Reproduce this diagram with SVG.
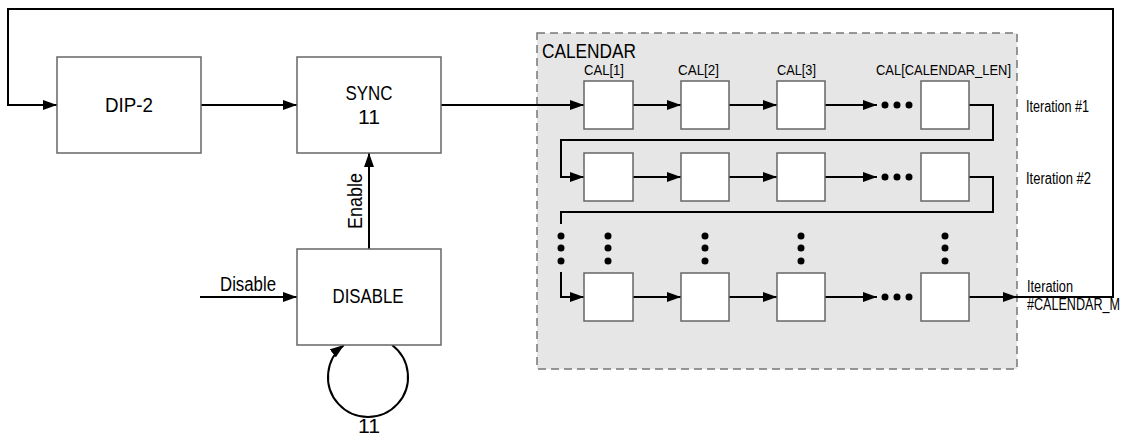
<svg xmlns="http://www.w3.org/2000/svg" width="1123" height="435" viewBox="0 0 1123 435">
<style>
  .box { fill: #ffffff; stroke: #666666; stroke-width: 1.5; }
  .cell { fill: #ffffff; stroke: #666666; stroke-width: 1.5; }
  .wire { fill: none; stroke: #000000; stroke-width: 2; }
  .arr { marker-end: url(#ah); }
  .t20 { font-family: "Liberation Sans", Arial, sans-serif; font-size: 20px; fill: #000; }
  .t14 { font-family: "Liberation Sans", Arial, sans-serif; font-size: 15px; fill: #000; }
  .t16 { font-family: "Liberation Sans", Arial, sans-serif; font-size: 16px; fill: #000; }
  .dot { fill: #000; }
</style>
<defs>
  <marker id="ah" markerUnits="userSpaceOnUse" markerWidth="14" markerHeight="10" refX="14" refY="5" orient="auto">
    <path d="M0,0 L14,5 L0,10 z" fill="#000"/>
  </marker>
</defs>

<g id="calendar">
  <rect x="537" y="33" width="480" height="336" fill="#e6e6e6" stroke="#777777" stroke-width="1.5" stroke-dasharray="8,5"/>
  <text class="t20" x="542" y="58" textLength="94" lengthAdjust="spacingAndGlyphs">CALENDAR</text>
</g>

<g id="connectors">
  <path class="wire" d="M1017,297 L1113,297 L1113,9 L8,9 L8,105 L57,105" marker-end="url(#ah)"/>
  <path class="wire arr" d="M201,105 L297,105"/>
  <path class="wire arr" d="M441,105 L584,105"/>
  <path class="wire arr" d="M369,249 L369,153"/>
  <path class="wire arr" d="M200,297 L297,297"/>
  <path class="wire arr" d="M392,345 A40,40 0 1 1 344,345"/>
  <path class="wire arr" d="M633,105 L681,105"/>
  <path class="wire arr" d="M729,105 L777,105"/>
  <path class="wire arr" d="M825,105 L877,105"/>
  <path class="wire arr" d="M969,105 L993,105 L993,140 L561,140 L561,177 L584,177"/>
  <path class="wire arr" d="M633,177 L681,177"/>
  <path class="wire arr" d="M729,177 L777,177"/>
  <path class="wire arr" d="M825,177 L877,177"/>
  <path class="wire" d="M969,177 L993,177 L993,212 L561,212 L561,224"/>
  <path class="wire arr" d="M561,272 L561,297 L584,297"/>
  <path class="wire arr" d="M633,297 L681,297"/>
  <path class="wire arr" d="M729,297 L777,297"/>
  <path class="wire arr" d="M825,297 L877,297"/>
  <path class="wire arr" d="M969,297 L1017,297"/>
  <g class="dot">
    <circle cx="885" cy="105" r="3.5"/><circle cx="897" cy="105" r="3.5"/><circle cx="909" cy="105" r="3.5"/>
    <circle cx="885" cy="177" r="3.5"/><circle cx="897" cy="177" r="3.5"/><circle cx="909" cy="177" r="3.5"/>
    <circle cx="885" cy="297" r="3.5"/><circle cx="897" cy="297" r="3.5"/><circle cx="909" cy="297" r="3.5"/>
    <circle cx="561" cy="236" r="3.5"/><circle cx="561" cy="248" r="3.5"/><circle cx="561" cy="261" r="3.5"/>
    <circle cx="608" cy="236" r="3.5"/><circle cx="608" cy="248" r="3.5"/><circle cx="608" cy="261" r="3.5"/>
    <circle cx="705" cy="236" r="3.5"/><circle cx="705" cy="248" r="3.5"/><circle cx="705" cy="261" r="3.5"/>
    <circle cx="801" cy="236" r="3.5"/><circle cx="801" cy="248" r="3.5"/><circle cx="801" cy="261" r="3.5"/>
    <circle cx="945" cy="236" r="3.5"/><circle cx="945" cy="248" r="3.5"/><circle cx="945" cy="261" r="3.5"/>
  </g>
  <text class="t20" x="362" y="201" text-anchor="middle" transform="rotate(-90 362 201)" textLength="56" lengthAdjust="spacingAndGlyphs">Enable</text>
  <text class="t20" x="220" y="291" textLength="56" lengthAdjust="spacingAndGlyphs">Disable</text>
  <text class="t20" x="369" y="433" text-anchor="middle" textLength="22" lengthAdjust="spacingAndGlyphs">11</text>
</g>

<g id="dip2">
  <rect class="box" x="57" y="57" width="144" height="96"/>
  <text class="t20" x="129" y="112" text-anchor="middle" textLength="48" lengthAdjust="spacingAndGlyphs">DIP-2</text>
</g>

<g id="sync">
  <rect class="box" x="297" y="57" width="144" height="96"/>
  <text class="t20" x="369" y="100" text-anchor="middle" textLength="47" lengthAdjust="spacingAndGlyphs">SYNC</text>
  <text class="t20" x="369" y="124" text-anchor="middle" textLength="22" lengthAdjust="spacingAndGlyphs">11</text>
</g>

<g id="disable">
  <rect class="box" x="297" y="249" width="144" height="96"/>
  <text class="t20" x="368" y="303" text-anchor="middle" textLength="71" lengthAdjust="spacingAndGlyphs">DISABLE</text>
</g>

<g id="cells-row1">
  <rect class="cell" x="584" y="81" width="49" height="48"/>
  <rect class="cell" x="681" y="81" width="48" height="48"/>
  <rect class="cell" x="777" y="81" width="48" height="48"/>
  <rect class="cell" x="921" y="81" width="48" height="48"/>
  <text class="t14" x="584" y="75" textLength="40" lengthAdjust="spacingAndGlyphs">CAL[1]</text>
  <text class="t14" x="678" y="75" textLength="41" lengthAdjust="spacingAndGlyphs">CAL[2]</text>
  <text class="t14" x="777" y="75" textLength="39" lengthAdjust="spacingAndGlyphs">CAL[3]</text>
  <text class="t14" x="876" y="75" textLength="135" lengthAdjust="spacingAndGlyphs">CAL[CALENDAR_LEN]</text>
  <text class="t16" x="1026" y="112" textLength="63" lengthAdjust="spacingAndGlyphs">Iteration #1</text>
</g>

<g id="cells-row2">
  <rect class="cell" x="584" y="153" width="49" height="48"/>
  <rect class="cell" x="681" y="153" width="48" height="48"/>
  <rect class="cell" x="777" y="153" width="48" height="48"/>
  <rect class="cell" x="921" y="153" width="48" height="48"/>
  <text class="t16" x="1026" y="184" textLength="65" lengthAdjust="spacingAndGlyphs">Iteration #2</text>
</g>

<g id="cells-row3">
  <rect class="cell" x="584" y="273" width="49" height="48"/>
  <rect class="cell" x="681" y="273" width="48" height="48"/>
  <rect class="cell" x="777" y="273" width="48" height="48"/>
  <rect class="cell" x="921" y="273" width="48" height="48"/>
  <text class="t16" x="1027" y="292" textLength="46" lengthAdjust="spacingAndGlyphs">Iteration</text>
  <text class="t16" x="1027" y="310" textLength="93" lengthAdjust="spacingAndGlyphs">#CALENDAR_M</text>
</g>
</svg>
